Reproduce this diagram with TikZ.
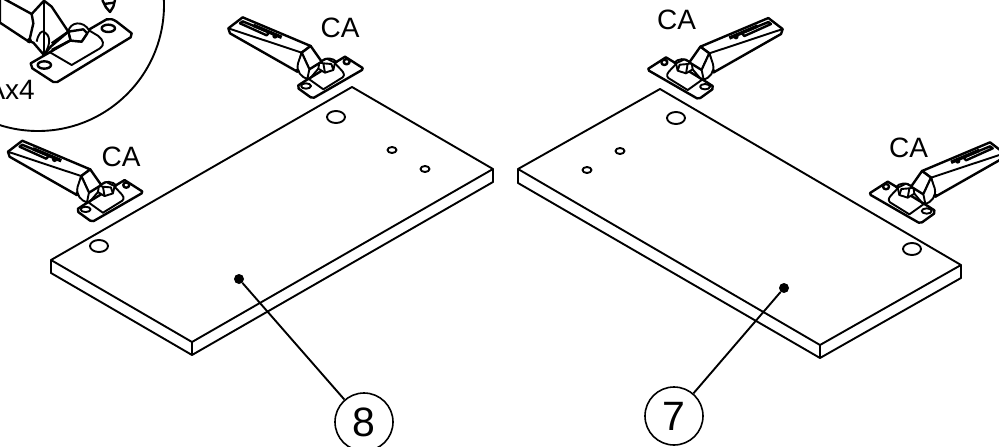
\documentclass[tikz,border=0pt]{standalone}
\usepackage{fontspec}
\setmainfont{Liberation Sans}
\tikzset{
  edge/.style={line width=1.9pt,line join=round},
  heavy/.style={line width=2.4pt,line join=round},
  cota/.style={font=\fontsize{28}{30}\selectfont,inner sep=0pt},
  callout/.style={draw,circle,line width=1.6pt,minimum size=58pt,inner sep=0pt,font=\fontsize{41}{43}\selectfont},
  blackdot/.style={circle,fill,inner sep=0pt,minimum size=10pt},
  hinge/.pic={
    \begin{scope}[scale=1/3]
    % plate
    \draw[heavy,fill=white] (235,256) -- (255,243) -- (355,182) -- (375,170) -- (428,204) -- (426,210) -- (282,293) -- (272,292) -- (236,266) -- cycle;
    \draw[edge] (268,238) -- (310,268) -- (368,232) .. controls (375,225) and (372,218) .. (362,208) -- (345,190);
    \draw[edge] (258,258) ellipse [x radius=15,y radius=8];
    \draw[heavy] (380,185) ellipse [x radius=9,y radius=8];
    % cup
    \draw[edge] (305,183) .. controls (315,172) and (340,172) .. (352,188);
    \draw[edge,fill=white] (298,187) -- (320,176) -- (345,188) -- (340,210) -- (315,218) -- (295,206) -- cycle;
    \draw[edge] (295,206) -- (268,238);
    \draw[edge] (310,190) -- (334,192) -- (340,210) (310,190) -- (298,187) (310,190) -- (315,218);
    % arm
    \draw[heavy,fill=white] (25,85) -- (68,52) -- (272,138) -- (245,158) -- (232,215) -- (30,100) -- cycle;
    \draw[edge] (25,85) -- (245,158);
    \draw[heavy,fill=white] (245,158) -- (272,138) -- (305,185) -- (268,208) -- cycle;
    \draw[edge,fill=white] (234,190) .. controls (228,215) and (245,232) .. (262,237) -- (268,208) -- (245,158) -- cycle;
    % slot on the top face
    \draw[heavy] (60,70) -- (68,64) -- (148,97) -- (140,106) -- cycle;
    \draw[line width=3.5pt] (100,76) -- (185,112);
    \fill (165,108) circle (8);
    \fill (232,212) circle (6);
    \end{scope}
  }
}
\begin{document}
\begin{tikzpicture}[x=1pt,y=-1pt]
\useasboundingbox (0,0) rectangle (999,447);
\clip (0,0) rectangle (999,447);
% detail circle with the large hinge
\draw[line width=1.9pt] (38,5) circle (126);
\begin{scope}[scale=1/3]
\draw[heavy,fill=white] (92,190) -- (320,58) .. controls (330,55) and (340,58) .. (350,65) -- (395,100) -- (392,112) -- (172,246) -- (160,246) -- (97,205) -- cycle;
\draw[edge] (150,157) -- (215,195) -- (300,145) .. controls (315,135) and (310,120) .. (295,108) -- (262,88);
\draw[heavy] (133,195) ellipse [x radius=20,y radius=11];
\draw[heavy] (325,85) ellipse [x radius=20,y radius=11];
\draw[heavy,fill=white] (0,68) -- (82,122) -- (100,128) -- (132,165) -- (152,140) -- (205,95) -- (155,20) -- (132,2) -- (95,42) -- (0,-10) -- cycle;
\draw[edge] (132,0) -- (132,165);
\draw[heavy] (95,42) -- (100,70) -- (88,122);
\draw[edge] (110,125) .. controls (115,100) and (125,92) .. (132,95) .. controls (150,105) and (155,130) .. (132,165);
\fill (88,122) circle (8);
\draw[heavy] (155,130) -- (205,95) (155,150) -- (210,122);
\draw[edge,fill=white] (205,95) .. controls (210,65) and (250,60) .. (268,92) -- (262,100) -- (245,125) -- (212,122) -- cycle;
\draw[heavy] (205,95) -- (250,88) -- (262,100) (205,95) -- (212,122) -- (245,125) -- (262,100);
% screw tip
\draw[heavy] (307,0) -- (318,22) -- (330,36) -- (340,20) -- (345,0);
\draw[heavy] (312,12) -- (342,8);
\end{scope}
\node[cota,anchor=base east] (qty) at (35,99) {Ax4};
% hinges
\pic at (-0.4,123.4) {hinge};
\pic at (220,0) {hinge};
\pic[xscale=-1] at (791,0.7) {hinge};
\pic[xscale=-1] at (1012.7,125) {hinge};
\node[cota] (ca1) at (121,157) {CA};
\node[cota] (ca2) at (340,27.5) {CA};
\node[cota] (ca3) at (676.5,19.5) {CA};
\node[cota] (ca4) at (908.5,147.5) {CA};
% panel 8
\draw[edge] (51,260) -- (352,87) -- (493,169) -- (192,342) -- cycle;
\draw[edge] (51,260) -- (51,273) -- (192,355) -- (493,182) -- (493,169);
\draw[edge] (192,342) -- (192,355);
% panel 7
\draw[edge] (518,169) -- (660,89) -- (961,265) -- (820,345) -- cycle;
\draw[edge] (518,169) -- (518,183) -- (820,358) -- (961,278) -- (961,265);
\draw[edge] (820,345) -- (820,358);
% holes
\foreach \hx/\hy in {99/246,336/117,676/118,912/249}
  \draw[edge] (\hx,\hy) ellipse [x radius=9,y radius=6];
\foreach \hx/\hy in {392/150,425/169,620/151,587/170}
  \draw[edge] (\hx,\hy) ellipse [x radius=4.5,y radius=3];
% callouts
\node[callout] (eight) at (364,422) {8};
\node[callout] (seven) at (674,416) {7};
\node[blackdot] (dot8) at (239,279) {};
\node[blackdot] (dot7) at (784,288) {};
\draw[edge] (dot8) -- (eight);
\draw[edge] (dot7) -- (seven);
\end{tikzpicture}
\end{document}
